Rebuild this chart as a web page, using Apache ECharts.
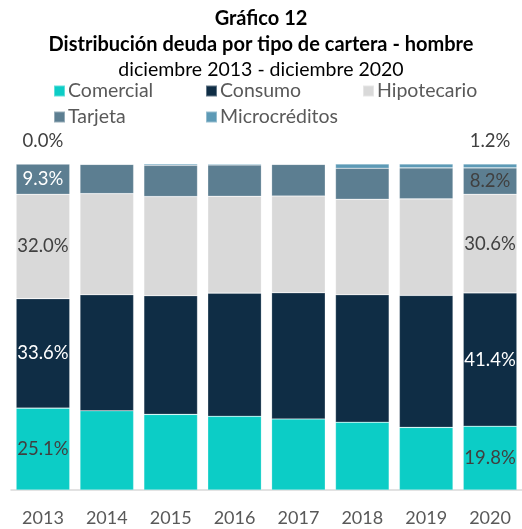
<!DOCTYPE html>
<html>
<head>
<meta charset="utf-8">
<script src="https://cdn.jsdelivr.net/npm/echarts@6/dist/echarts.min.js"></script>
<style>
    html, body { margin: 0; padding: 0; background: #fff; }
    #chart { width: 522px; height: 529px; }
</style>
</head>
<body>
<div id="chart"></div>
<script>
var years = ['2013', '2014', '2015', '2016', '2017', '2018', '2019', '2020'];

// valores en %
var comercial    = [25.1, 24.3, 23.2, 22.6, 21.8, 20.8, 19.2, 19.8];
var consumo      = [33.6, 35.6, 36.4, 37.8, 38.7, 39.1, 40.5, 41.4];
var hipotecario  = [32.0, 31.0, 30.4, 29.7, 29.7, 29.3, 29.6, 30.6];
var tarjeta      = [9.3, 9.0, 9.6, 9.6, 9.7, 9.5, 9.5, 8.2];
var microcreditos = [0.0, 0.1, 0.4, 0.3, 0.1, 1.3, 1.2, 1.2];

var names = ['Comercial', 'Consumo', 'Hipotecario', 'Tarjeta', 'Microcréditos'];
var colors = ['#0ccdc6', '#0f2d45', '#d9d9d9', '#5c7e91', '#5d9ab6'];
// color de etiqueta [2013, 2020]
var labelColors = [['#404040', '#404040'], ['#ffffff', '#ffffff'], ['#404040', '#404040'], ['#ffffff', '#404040'], ['#404040', '#404040']];

var font = 'Lato, "Open Sans", sans-serif';

function setStackChart(dom_id) {
    var myChart = echarts.init(document.getElementById(dom_id));
    var raw = [comercial, consumo, hipotecario, tarjeta, microcreditos];
    var totals = [];
    for (var i = 0; i < years.length; i++) {
        var s = 0;
        for (var k = 0; k < raw.length; k++) s += raw[k][i];
        totals[i] = s;
    }

    var series = [];
    for (var k = 0; k < raw.length; k++) {
        var data = [];
        for (var i = 0; i < years.length; i++) {
            var edge = (i == 0 || i == years.length - 1);
            data.push({
                value: raw[k][i] / totals[i] * 100,
                raw: raw[k][i],
                label: {
                    show: edge,
                    color: labelColors[k][i == 0 ? 0 : 1]
                }
            });
        }
        series.push({
            name: names[k],
            type: 'bar',
            stack: 'total',
            barCategoryGap: '16%',
            itemStyle: { color: colors[k], borderColor: 'rgba(255,255,255,0.35)', borderWidth: 0.6 },
            label: {
                position: k == 4 ? 'top' : 'inside',
                distance: 13,
                fontFamily: font,
                fontSize: 18.5,
                formatter: function (p) {
                    return p.data.raw.toFixed(1) + '%';
                }
            },
            data: data
        });
    }

    var legends = [];
    var pos = [[53, 81], [205, 81], [362, 81], [53, 107], [205, 107]];
    for (var k = 0; k < names.length; k++) {
        legends.push({
            data: [names[k]],
            left: pos[k][0],
            top: pos[k][1],
            padding: 0,
            itemWidth: 11,
            itemHeight: 11,
            itemGap: 6,
            icon: 'rect',
            selectedMode: false,
            textStyle: { fontFamily: font, fontSize: 19.5, color: '#595959', padding: [0, 0, 0, -2] }
        });
    }

    var option = {
        animation: false,
        title: [{
            text: 'Gráfico 12\nDistribución deuda por tipo de cartera - hombre',
            left: 'center',
            top: 6,
            padding: 0,
            textStyle: { fontFamily: font, fontSize: 20, fontWeight: 'bold', color: '#000', lineHeight: 26 }
        }, {
            text: 'diciembre 2013 - diciembre 2020',
            left: 'center',
            top: 60,
            padding: 0,
            textStyle: { fontFamily: font, fontSize: 19.5, fontWeight: 'normal', color: '#000' }
        }],
        legend: legends,
        grid: {
            left: 11,
            top: 164,
            width: 512,
            bottom: 39
        },
        xAxis: {
            type: 'category',
            data: years,
            axisLine: { lineStyle: { color: '#d9d9d9', width: 1.5 } },
            axisTick: { show: false },
            axisLabel: { fontFamily: font, fontSize: 18, color: '#595959', margin: 19 }
        },
        yAxis: {
            type: 'value',
            min: 0,
            max: 100,
            show: false
        },
        series: series
    };

    myChart.setOption(option);
    return myChart;
}

setStackChart('chart');
</script>
</body>
</html>
